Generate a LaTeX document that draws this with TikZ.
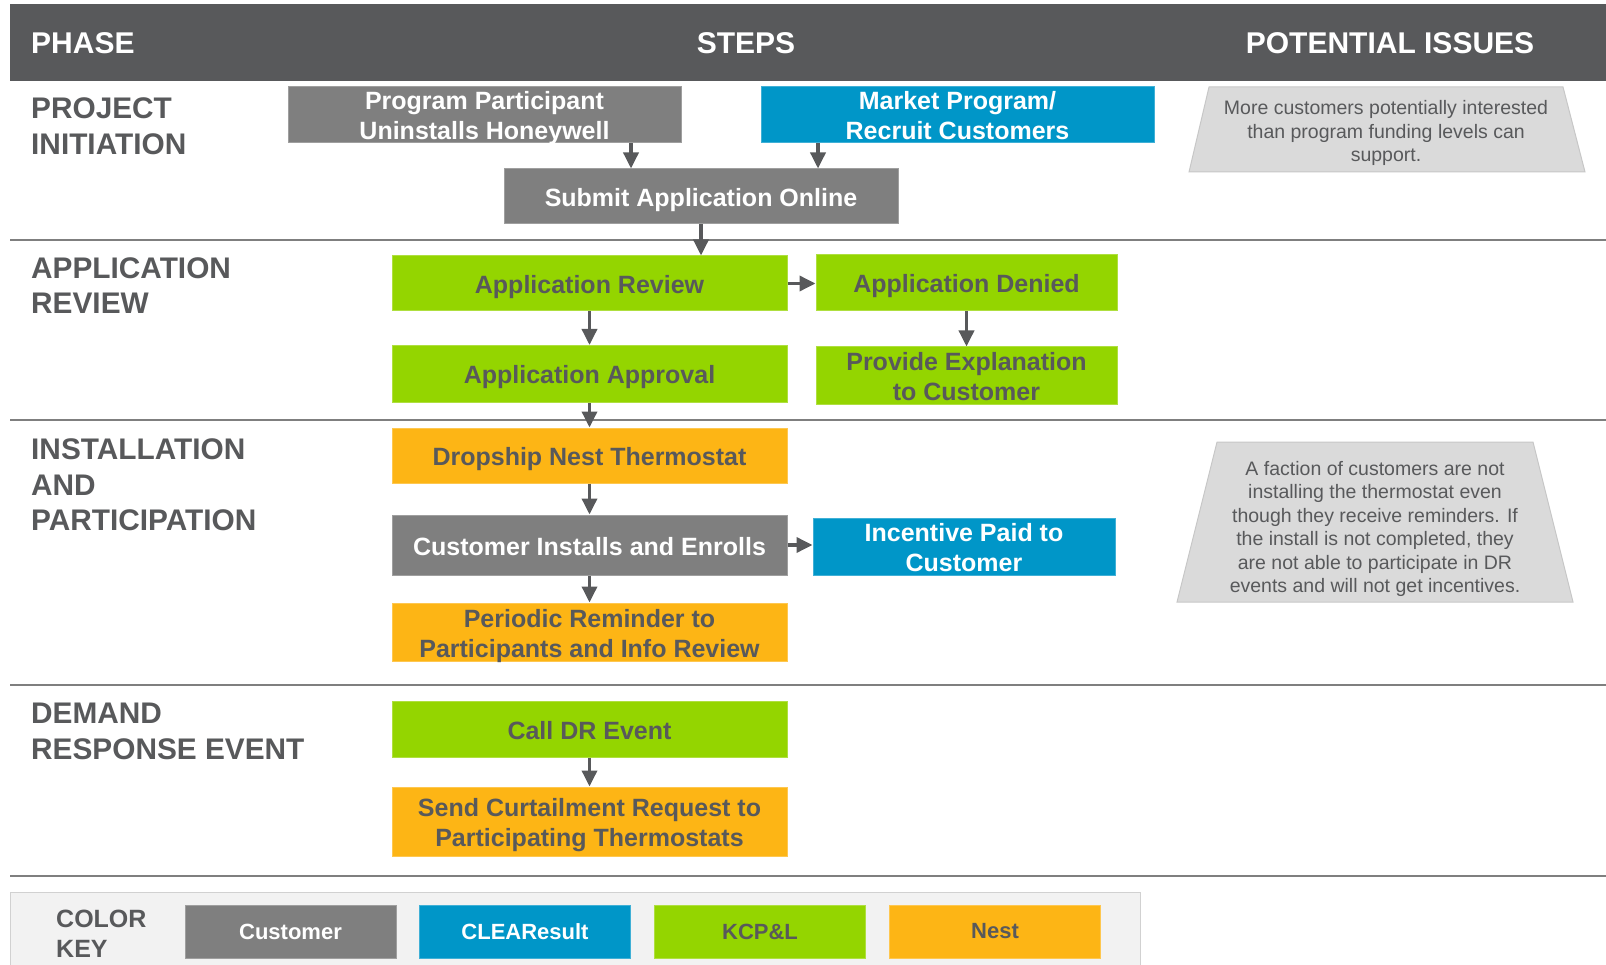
\documentclass[tikz,border=0pt]{standalone}
\usepackage{fontspec}
\setmainfont{Liberation Sans}
\usepackage{tikz}
\usetikzlibrary{arrows.meta,calc}
\definecolor{headgray}{HTML}{58595B}
\definecolor{custgray}{HTML}{7F7F7F}
\definecolor{clearblue}{HTML}{0096C8}
\definecolor{kcpgreen}{HTML}{94D500}
\definecolor{nestorange}{HTML}{FDB515}
\definecolor{issuegray}{HTML}{DADADA}
\definecolor{textgray}{HTML}{58595B}
\tikzset{
    stepbox/.style = {rectangle, inner sep=0pt, align=center, line width=1pt,
        font=\bfseries\fontsize{25}{30}\selectfont,
        text height=23pt, text depth=3pt,
        minimum width=395pt, minimum height=55pt},
    twoline/.style = {text height=53pt, text depth=3pt},
    custstep/.style = {stepbox, fill=custgray, draw=custgray!75!white, text=white},
    clearstep/.style = {stepbox, fill=clearblue, draw=clearblue!75!white, text=white},
    kcpstep/.style = {stepbox, fill=kcpgreen, draw=kcpgreen!75!white, text=textgray},
    neststep/.style = {stepbox, fill=nestorange, draw=nestorange!75!white, text=textgray},
    keybox/.style = {font=\bfseries\fontsize{22}{26}\selectfont, line width=1pt,
        minimum width=211pt, minimum height=53pt},
    phaselabel/.style = {anchor=west, align=left, inner sep=0pt, text=textgray,
        font=\bfseries\fontsize{29.8}{35.7}\selectfont},
    headtext/.style = {inner sep=0pt, text=white,
        font=\bfseries\fontsize{30}{36}\selectfont},
    issue/.style = {fill=issuegray, draw=black!22, line width=1pt},
    issuetext/.style = {align=center, inner sep=0pt, text=textgray,
        font=\fontsize{19.5}{23.5}\selectfont},
    rowline/.style = {draw=custgray, line width=2pt},
    arrow/.style = {draw=headgray, line width=3.5pt, -{Triangle[width=15pt,length=16pt]}}
}

\begin{document}
\begin{tikzpicture}[x=1pt,y=-1pt]
    \useasboundingbox (0,0) rectangle (1606,965);
    % header
    \fill[headgray] (10,4) rectangle (1606,81);
    \node[headtext, anchor=west] (hphase) at (31,43) {PHASE};
    \node[headtext] (hsteps) at (746,43) {STEPS};
    \node[headtext] (hissues) at (1390,43) {POTENTIAL ISSUES};
    % row separators
    \foreach \y in {240,420,685,876}
        \draw[rowline] (10,\y) -- (1606,\y);
    % phases
    \node[phaselabel] (pinit) at (31,126) {PROJECT\\INITIATION};
    \node[phaselabel] (prev) at (31,285.5) {APPLICATION\\REVIEW};
    \node[phaselabel] (pinst) at (31,485) {INSTALLATION\\AND\\PARTICIPATION};
    \node[phaselabel] (pdr) at (31,731.5) {DEMAND\\RESPONSE EVENT};
    % steps
    \node[custstep, twoline, minimum width=393pt, minimum height=56pt] (ppu) at (484.5,115) {Program Participant\\Uninstalls Honeywell};
    \node[clearstep, twoline, minimum width=393pt, minimum height=56pt] (mpr) at (957.5,115) {Market Program/\\Recruit Customers};
    \node[custstep, minimum width=394pt] (sao) at (701,196.5) {Submit Application Online};
    \node[kcpstep] (ar) at (589.5,283.5) {Application Review};
    \node[kcpstep, minimum width=301pt, minimum height=56pt] (ad) at (966.5,283) {Application Denied};
    \node[kcpstep, minimum height=57pt] (aa) at (589.5,374) {Application Approval};
    \node[kcpstep, twoline, minimum width=301pt, minimum height=57pt] (pec) at (966.5,375.5) {Provide Explanation\\to Customer};
    \node[neststep] (dnt) at (589.5,455.5) {Dropship Nest Thermostat};
    \node[custstep, minimum height=60pt] (cie) at (589.5,545) {Customer Installs and Enrolls};
    \node[clearstep, twoline, minimum width=302pt, minimum height=57pt] (ipc) at (964,546.5) {Incentive Paid to\\Customer};
    \node[neststep, twoline, minimum height=58pt] (prp) at (589.5,632) {Periodic Reminder to\\Participants and Info Review};
    \node[kcpstep, minimum height=56pt] (cdr) at (589.5,729) {Call DR Event};
    \node[neststep, twoline, minimum height=69pt] (scr) at (589.5,821.5) {Send Curtailment Request to\\Participating Thermostats};
    % connectors
    \draw[arrow] ([xshift=146.5pt]ppu.south) -- ([xshift=146.5pt]ppu.south |- sao.north);
    \draw[arrow] ([xshift=-139.5pt]mpr.south) -- ([xshift=-139.5pt]mpr.south |- sao.north);
    \draw[arrow] (sao.south) -- (sao.south |- ar.north);
    \draw[arrow] (ar.east) -- (ar.east -| ad.west);
    \draw[arrow] (ar.south) -- (aa.north);
    \draw[arrow] (ad.south) -- (pec.north);
    \draw[arrow] (aa.south) -- (dnt.north);
    \draw[arrow] (dnt.south) -- (cie.north);
    \draw[arrow] (cie.east) -- (cie.east -| ipc.west);
    \draw[arrow] (cie.south) -- (prp.north);
    \draw[arrow] (cdr.south) -- (scr.north);
    % potential issues
    \filldraw[issue] (1209,87) -- (1563,87) -- (1585,172) -- (1189,172) -- cycle;
    \node[issuetext] (iss1) at (1386,133) {More customers potentially interested\\than program funding levels can\\support.};
    \filldraw[issue] (1217,442) -- (1533,442) -- (1573,602) -- (1177,602) -- cycle;
    \node[issuetext] (iss2) at (1375,529) {A faction of customers are not\\installing the thermostat even\\though they receive reminders. If\\the install is not completed, they\\are not able to participate in DR\\events and will not get incentives.};
    % color key
    \filldraw[fill=black!5, draw=black!18, line width=1pt] (10,892) rectangle (1140,972);
    \node[phaselabel, font=\bfseries\fontsize{25}{30}\selectfont] (ckey) at (56,934) {COLOR\\KEY};
    \node[keybox, fill=custgray, draw=custgray!75!white, text=white] (kcust) at (290.5,931.5) {Customer};
    \node[keybox, fill=clearblue, draw=clearblue!75!white, text=white] (kclear) at (525,931.5) {CLEAResult};
    \node[keybox, fill=kcpgreen, draw=kcpgreen!75!white, text=textgray] (kkcp) at (760,931.5) {KCP\&L};
    \node[keybox, fill=nestorange, draw=nestorange!75!white, text=textgray] (knest) at (995,931.5) {Nest};
\end{tikzpicture}
\end{document}
